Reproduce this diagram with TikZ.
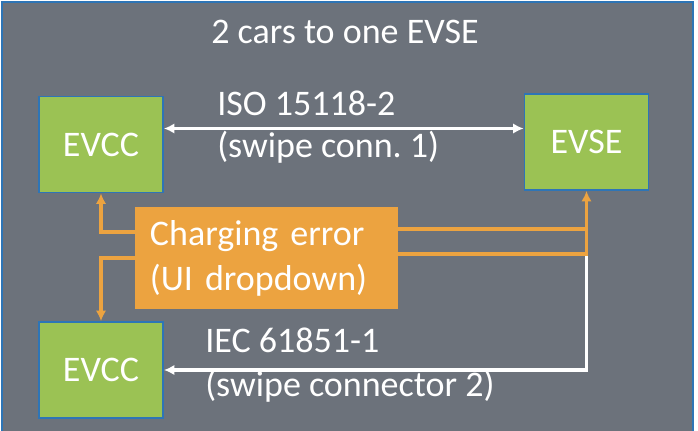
\documentclass[tikz,border=0pt]{standalone}
\usepackage{fontspec}
\setmainfont{Carlito}
\usetikzlibrary{arrows.meta}
\frenchspacing

\begin{document}
\begin{tikzpicture}[x=0.025cm,y=-0.025cm,
    >={Latex[length=7.5pt,width=7.5pt]},
    txt/.style={text=white,inner sep=0pt,font=\fontsize{25.6}{32}\selectfont},
    unit/.style={txt,draw=frameblue,line width=1.3pt,fill=unitgreen,
        minimum width=3.1cm,minimum height=2.4cm},
    errbox/.style={txt,fill=erroryellow,align=left,text width=5.825cm,
        inner xsep=0.375cm,minimum height=2.55cm},
    wire/.style={white,line width=2.5pt},
    errline/.style={erroryellow,line width=2.5pt}]
    % Define colors
    \definecolor{panel}{RGB}{108,114,123}
    \definecolor{frameblue}{RGB}{46,117,182}
    \definecolor{unitgreen}{RGB}{155,194,84}
    \definecolor{erroryellow}{RGB}{236,163,64}

    % Draw frame
    \useasboundingbox (0,0) rectangle (698,430);
    \fill[white] (0,0) rectangle (698,430);
    \draw[line width=1.4pt,draw=frameblue,fill=panel] (2,2) rectangle (693,450);
    \node[txt,anchor=base] (title) at (345,43) {2 cars to one EVSE};

    % Draw units
    \node[unit] (evcca) at (101,144.5) {EVCC};
    \node[unit] (evse) at (586.5,142) {EVSE};
    \node[unit] (evccb) at (101,370) {EVCC};
    \node[errbox] (err) at (266.5,258) {Charging error\\(UI dropdown)};

    % Protocol labels
    \node[txt,anchor=base west] (isotop) at (217,115) {ISO 15118-2};
    \node[txt,anchor=base west] (isobot) at (217,157) {(swipe conn. 1)};
    \node[txt,anchor=base west] (iectop) at (205,352) {IEC 61851-1};
    \node[txt,anchor=base west] (iecbot) at (205,396) {(swipe connector 2)};

    % Connectors
    \draw[wire,<->] ([yshift=4mm]evcca.east) coordinate (isol) -- (isol -| evse.west);
    \path ([yshift=1mm]err.east) coordinate (errlow);
    \path (errlow -| evse.south) coordinate (jn);
    \draw[wire,->] (jn) |- (evccb.east);
    \draw[errline,->] ([yshift=6.5mm]err.west) -| (evcca.south);
    \draw[errline,->] (err.west) -| (evccb.north);
    \draw[errline] ([yshift=7.25mm]err.east) -- ([yshift=7.25mm]err.east -| jn);
    \draw[errline,->] (errlow) -| (evse.south);
\end{tikzpicture}
\end{document}
